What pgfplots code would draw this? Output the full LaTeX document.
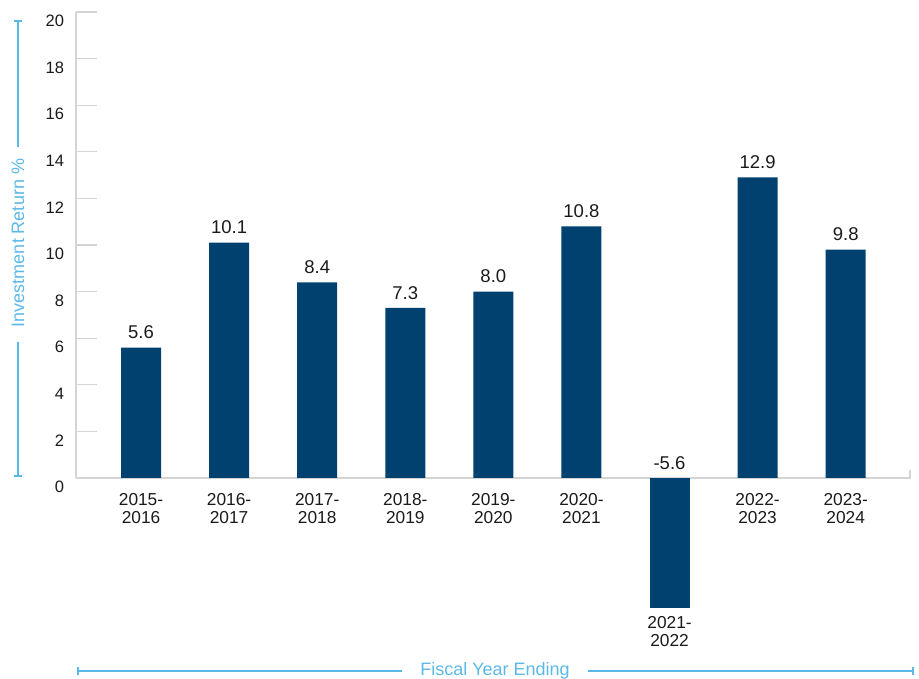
\documentclass[border=0pt]{standalone}
\usepackage{fontspec}
\setmainfont{Liberation Sans}
\usepackage{pgfplots}
\pgfplotsset{compat=1.18}
\usetikzlibrary{arrows.meta}
\definecolor{barblue}{HTML}{004170}
\definecolor{lblue}{HTML}{5BB9E8}
\definecolor{axgrey}{HTML}{D4D4D4}
\definecolor{txt}{HTML}{1A1A1A}
\newcommand{\lblfont}{\fontsize{16.5}{19}\selectfont}
\newcommand{\xlblfont}{\fontsize{17.3}{18.6}\selectfont}
\newcommand{\valfont}{\fontsize{18.5}{21}\selectfont}

\begin{document}
\begin{tikzpicture}[x=1pt,y=1pt]
\useasboundingbox (-76,-201) rectangle (843,478);
\begin{axis}[
  at={(0,0)}, anchor=south west,
  scale only axis, width=834pt, height=466pt,
  xmin=-0.738, xmax=8.73, ymin=0, ymax=20,
  clip=false,
  axis lines=left,
  axis line style={axgrey, line width=2pt, -},
  ytick={0,2,...,20},
  major tick length=21pt, tick align=inside,
  ytick style={axgrey, line width=1.2pt},
  xtick style={draw=none},
  /pgf/number format/assume math mode=true,
  yticklabel style={font=\lblfont, text=txt, yshift=-9pt, xshift=-8.5pt},
  xtick={0,...,8},
  xticklabels={{2015-\\2016},{2016-\\2017},{2017-\\2018},{2018-\\2019},{2019-\\2020},{2020-\\2021},{},{2022-\\2023},{2023-\\2024}},
  xticklabel style={align=center, font=\xlblfont, text=txt, yshift=9.5pt},
  ybar, bar width=40pt,
  nodes near coords style={font=\valfont, text=txt, yshift=5pt},
]
\addplot[fill=barblue, draw=none, bar shift=0pt,
  point meta=y,
  nodes near coords={\pgfmathprintnumber[fixed,fixed zerofill,precision=1]{\pgfplotspointmeta}}]
  coordinates {(0,5.6) (1,10.1) (2,8.4) (3,7.3) (4,8.0) (5,10.8) (7,12.9) (8,9.8)};
\addplot[fill=barblue, draw=none, bar shift=0pt] coordinates {(6,-5.6)};
\node[font=\valfont, text=txt, anchor=south, yshift=5pt] at (axis cs:6,0) {-5.6};
\node[font=\xlblfont, text=txt, anchor=north, align=center, yshift=-4pt] at (axis cs:6,-5.6) {2021-\\2022};
\end{axis}
% right end of x axis
\draw[axgrey, line width=2pt] (834,-1) -- (834,8);
% y axis title with bracket
\draw[lblue, line width=1.6pt, {Bar[width=8pt]}-] (-58,458) -- (-58,331);
\draw[lblue, line width=1.6pt, -{Bar[width=8pt]}] (-58,136) -- (-58,1);
\node[rotate=90, text=lblue, font=\fontsize{18}{21}\selectfont] at (-58,235) {Investment Return \%};
% x axis title with bracket
\draw[lblue, line width=1.6pt, {Bar[width=8pt]}-] (1,-193) -- (326,-193);
\draw[lblue, line width=1.6pt, -{Bar[width=8pt]}] (512,-193) -- (838,-193);
\node[text=lblue, font=\fontsize{18}{21}\selectfont] at (419,-193) {Fiscal Year Ending};
\end{tikzpicture}
\end{document}
